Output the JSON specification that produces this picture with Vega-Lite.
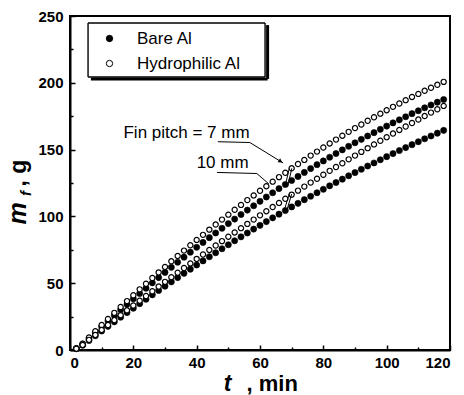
{
  "$schema": "https://vega.github.io/schema/vega-lite/v6.json",
  "width": 380,
  "height": 334,
  "autosize": {"type": "none"},
  "padding": {"left": 70, "top": 16, "right": 14, "bottom": 45},
  "background": "white",
  "datasets": {
    "curves": [
      {"t": 2, "h7": 1.2, "b7": 1.1, "h10": 1.0, "b10": 1.0},
      {"t": 4, "h7": 4.7, "b7": 4.4, "h10": 3.8, "b10": 3.6},
      {"t": 6, "h7": 9.4, "b7": 8.8, "h10": 7.6, "b10": 7.1},
      {"t": 8, "h7": 14.1, "b7": 13.1, "h10": 11.3, "b10": 10.7},
      {"t": 10, "h7": 18.7, "b7": 17.4, "h10": 15.0, "b10": 14.2},
      {"t": 12, "h7": 23.2, "b7": 21.7, "h10": 18.7, "b10": 17.7},
      {"t": 14, "h7": 27.8, "b7": 25.9, "h10": 22.4, "b10": 21.1},
      {"t": 16, "h7": 32.2, "b7": 30.1, "h10": 26.1, "b10": 24.6},
      {"t": 18, "h7": 36.6, "b7": 34.2, "h10": 29.7, "b10": 28.0},
      {"t": 20, "h7": 41.0, "b7": 38.3, "h10": 33.3, "b10": 31.3},
      {"t": 22, "h7": 45.4, "b7": 42.3, "h10": 36.9, "b10": 34.7},
      {"t": 24, "h7": 49.6, "b7": 46.3, "h10": 40.4, "b10": 38.0},
      {"t": 26, "h7": 53.9, "b7": 50.3, "h10": 44.0, "b10": 41.3},
      {"t": 28, "h7": 58.1, "b7": 54.2, "h10": 47.5, "b10": 44.6},
      {"t": 30, "h7": 62.2, "b7": 58.1, "h10": 51.0, "b10": 47.8},
      {"t": 32, "h7": 66.4, "b7": 61.9, "h10": 54.5, "b10": 51.0},
      {"t": 34, "h7": 70.4, "b7": 65.7, "h10": 57.9, "b10": 54.2},
      {"t": 36, "h7": 74.4, "b7": 69.5, "h10": 61.4, "b10": 57.4},
      {"t": 38, "h7": 78.4, "b7": 73.2, "h10": 64.8, "b10": 60.5},
      {"t": 40, "h7": 82.4, "b7": 76.9, "h10": 68.2, "b10": 63.6},
      {"t": 42, "h7": 86.2, "b7": 80.5, "h10": 71.5, "b10": 66.7},
      {"t": 44, "h7": 90.1, "b7": 84.1, "h10": 74.9, "b10": 69.8},
      {"t": 46, "h7": 93.9, "b7": 87.6, "h10": 78.2, "b10": 72.8},
      {"t": 48, "h7": 97.6, "b7": 91.1, "h10": 81.5, "b10": 75.8},
      {"t": 50, "h7": 101.3, "b7": 94.6, "h10": 84.8, "b10": 78.8},
      {"t": 52, "h7": 105.0, "b7": 98.0, "h10": 88.0, "b10": 81.8},
      {"t": 54, "h7": 108.6, "b7": 101.4, "h10": 91.2, "b10": 84.7},
      {"t": 56, "h7": 112.2, "b7": 104.7, "h10": 94.4, "b10": 87.6},
      {"t": 58, "h7": 115.7, "b7": 108.0, "h10": 97.6, "b10": 90.5},
      {"t": 60, "h7": 119.2, "b7": 111.3, "h10": 100.8, "b10": 93.3},
      {"t": 62, "h7": 122.6, "b7": 114.5, "h10": 103.9, "b10": 96.1},
      {"t": 64, "h7": 126.0, "b7": 117.7, "h10": 107.0, "b10": 98.9},
      {"t": 66, "h7": 129.4, "b7": 120.8, "h10": 110.1, "b10": 101.7},
      {"t": 68, "h7": 132.7, "b7": 123.9, "h10": 113.2, "b10": 104.4},
      {"t": 70, "h7": 136.0, "b7": 126.9, "h10": 116.3, "b10": 107.1},
      {"t": 72, "h7": 139.2, "b7": 129.9, "h10": 119.3, "b10": 109.8},
      {"t": 74, "h7": 142.3, "b7": 132.9, "h10": 122.3, "b10": 112.5},
      {"t": 76, "h7": 145.5, "b7": 135.8, "h10": 125.3, "b10": 115.1},
      {"t": 78, "h7": 148.5, "b7": 138.7, "h10": 128.2, "b10": 117.7},
      {"t": 80, "h7": 151.6, "b7": 141.5, "h10": 131.2, "b10": 120.3},
      {"t": 82, "h7": 154.6, "b7": 144.3, "h10": 134.1, "b10": 122.9},
      {"t": 84, "h7": 157.5, "b7": 147.1, "h10": 137.0, "b10": 125.4},
      {"t": 86, "h7": 160.4, "b7": 149.8, "h10": 139.8, "b10": 127.9},
      {"t": 88, "h7": 163.3, "b7": 152.5, "h10": 142.7, "b10": 130.4},
      {"t": 90, "h7": 166.1, "b7": 155.1, "h10": 145.5, "b10": 132.8},
      {"t": 92, "h7": 168.8, "b7": 157.7, "h10": 148.3, "b10": 135.3},
      {"t": 94, "h7": 171.6, "b7": 160.2, "h10": 151.1, "b10": 137.7},
      {"t": 96, "h7": 174.2, "b7": 162.7, "h10": 153.9, "b10": 140.0},
      {"t": 98, "h7": 176.9, "b7": 165.2, "h10": 156.6, "b10": 142.4},
      {"t": 100, "h7": 179.5, "b7": 167.6, "h10": 159.3, "b10": 144.7},
      {"t": 102, "h7": 182.0, "b7": 170.0, "h10": 162.0, "b10": 147.0},
      {"t": 104, "h7": 184.5, "b7": 172.3, "h10": 164.7, "b10": 149.3},
      {"t": 106, "h7": 187.0, "b7": 174.6, "h10": 167.3, "b10": 151.5},
      {"t": 108, "h7": 189.4, "b7": 176.9, "h10": 169.9, "b10": 153.7},
      {"t": 110, "h7": 191.7, "b7": 179.1, "h10": 172.5, "b10": 155.9},
      {"t": 112, "h7": 194.0, "b7": 181.3, "h10": 175.1, "b10": 158.1},
      {"t": 114, "h7": 196.3, "b7": 183.4, "h10": 177.7, "b10": 160.2},
      {"t": 116, "h7": 198.5, "b7": 185.5, "h10": 180.2, "b10": 162.3},
      {"t": 118, "h7": 200.7, "b7": 187.5, "h10": 182.7, "b10": 164.4}
    ],
    "labels": [
      {"t": 36.8, "m": 162.4, "label": "Fin pitch = 7 mm"},
      {"t": 48.2, "m": 139.7, "label": "10 mm"}
    ],
    "arrows": [
      {"id": "a1", "o": 1, "t": 46.7, "m": 155.9},
      {"id": "a1", "o": 2, "t": 56.8, "m": 155.3},
      {"id": "a1", "o": 3, "t": 67.3, "m": 140.0},
      {"id": "a2", "o": 1, "t": 46.4, "m": 132.9},
      {"id": "a2", "o": 2, "t": 59.0, "m": 132.1},
      {"id": "a2", "o": 3, "t": 62.8, "m": 124.3}
    ],
    "heads": [
      {"t": 66.5, "m": 141.2}
    ],
    "slashes": [
      {"t": 67.9, "m": 122.2, "t2": 69.25, "m2": 136.0},
      {"t": 68.7, "m": 122.2, "t2": 70.05, "m2": 136.0},
      {"t": 67.6, "m": 104.0, "t2": 69.2, "m2": 116.7},
      {"t": 68.4, "m": 104.0, "t2": 70.0, "m2": 116.7}
    ],
    "boxedges": [
      {"t": 5.7, "m": 244.8, "t2": 61.6, "m2": 244.8},
      {"t": 5.7, "m": 204.3, "t2": 61.6, "m2": 204.3},
      {"t": 5.7, "m": 204.3, "t2": 5.7, "m2": 244.8},
      {"t": 61.6, "m": 204.3, "t2": 61.6, "m2": 244.8}
    ],
    "shadowedges": [
      {"t": 6.6, "m": 202.9, "t2": 62.4, "m2": 202.9},
      {"t": 62.4, "m": 202.9, "t2": 62.4, "m2": 243.2}
    ]
  },
  "layer": [
    {
      "data": {"name": "shadowedges"},
      "mark": {"type": "rule", "color": "black", "strokeWidth": 3},
      "encoding": {
        "x": {"field": "t", "type": "quantitative", "scale": {"domain": [0, 120], "nice": false}, "axis": null},
        "y": {"field": "m", "type": "quantitative", "scale": {"domain": [0, 250], "nice": false}, "axis": null},
        "x2": {"field": "t2"},
        "y2": {"field": "m2"}
      }
    },
    {
      "data": {"name": "boxedges"},
      "mark": {"type": "rule", "color": "black", "strokeWidth": 1.4},
      "encoding": {
        "x": {"field": "t", "type": "quantitative", "scale": {"domain": [0, 120], "nice": false}, "axis": null},
        "y": {"field": "m", "type": "quantitative", "scale": {"domain": [0, 250], "nice": false}, "axis": null},
        "x2": {"field": "t2"},
        "y2": {"field": "m2"}
      }
    },
    {
      "data": {"name": "curves"},
      "transform": [{"fold": ["b7", "b10"], "as": ["series", "m"]}],
      "mark": {"type": "point", "shape": "circle", "filled": true, "size": 38, "stroke": "black", "strokeWidth": 0.6, "opacity": 1},
      "encoding": {
        "x": {"field": "t", "type": "quantitative", "scale": {"domain": [0, 120], "nice": false},
          "axis": {"orient": "bottom", "values": [0, 20, 40, 60, 80, 100, 120], "tickSize": -5, "labelPadding": 10,
            "title": "t", "titleFontStyle": "italic", "titleFontWeight": "bold", "titleFontSize": 23,
            "titleX": 157, "titleY": 40, "titleAlign": "center", "titleBaseline": "alphabetic"}},
        "y": {"field": "m", "type": "quantitative", "scale": {"domain": [0, 250], "nice": false},
          "axis": {"orient": "left", "values": [0, 50, 100, 150, 200, 250], "tickSize": -5, "labelPadding": 12,
            "title": "m", "titleFontStyle": "italic", "titleFontWeight": "bold", "titleFontSize": 25,
            "titleX": -45, "titleY": 197, "titleAlign": "center", "titleBaseline": "alphabetic", "titleAngle": 270}},
        "fill": {"datum": "Bare Al", "type": "nominal",
          "scale": {"domain": ["Bare Al", "Hydrophilic Al"], "range": ["black", "white"]},
          "legend": {"orient": "none", "legendX": 22, "legendY": 11, "title": null, "padding": 3,
            "fillColor": "transparent", "strokeColor": "transparent",
            "symbolOffset": 6, "labelFontSize": 17, "labelFont": "Liberation Sans", "labelFontWeight": "normal",
            "labelColor": "black", "symbolSize": 40, "symbolStrokeColor": "black", "symbolStrokeWidth": 1,
            "symbolType": "circle", "rowPadding": 7, "labelOffset": 19}}
      }
    },
    {
      "data": {"name": "curves"},
      "transform": [{"fold": ["h7", "h10"], "as": ["series", "m"]}],
      "mark": {"type": "point", "shape": "circle", "filled": true, "size": 27, "stroke": "black", "strokeWidth": 1.2, "opacity": 1},
      "encoding": {
        "x": {"field": "t", "type": "quantitative", "scale": {"domain": [0, 120], "nice": false},
          "axis": {"orient": "bottom", "values": [10, 30, 50, 70, 90, 110], "tickSize": -3, "labels": false, "domain": false,
            "title": ", min", "titleFontWeight": "bold", "titleFontSize": 22,
            "titleX": 176, "titleY": 40, "titleAlign": "left", "titleBaseline": "alphabetic"}},
        "y": {"field": "m", "type": "quantitative", "scale": {"domain": [0, 250], "nice": false},
          "axis": {"orient": "left", "values": [25, 75, 125, 175, 225], "tickSize": -3, "labels": false, "domain": false,
            "title": "f", "titleFontStyle": "italic", "titleFontWeight": "bold", "titleFontSize": 15,
            "titleX": -40, "titleY": 177, "titleAlign": "center", "titleBaseline": "alphabetic", "titleAngle": 270}},
        "fill": {"datum": "Hydrophilic Al", "type": "nominal"}
      }
    },
    {
      "data": {"name": "labels"},
      "mark": {"type": "text", "font": "Liberation Sans", "fontSize": 17, "color": "black", "align": "center", "baseline": "middle"},
      "encoding": {
        "x": {"field": "t", "type": "quantitative", "scale": {"domain": [0, 120], "nice": false}, "axis": null},
        "y": {"field": "m", "type": "quantitative", "scale": {"domain": [0, 250], "nice": false},
          "axis": {"orient": "left", "ticks": false, "labels": false, "domain": false,
            "title": ", g", "titleFontWeight": "bold", "titleFontSize": 23,
            "titleX": -45, "titleY": 170, "titleAlign": "left", "titleBaseline": "alphabetic", "titleAngle": 270}},
        "text": {"field": "label"}
      }
    },
    {
      "data": {"name": "arrows"},
      "mark": {"type": "line", "color": "black", "strokeWidth": 1},
      "encoding": {
        "x": {"field": "t", "type": "quantitative", "scale": {"domain": [0, 120], "nice": false}, "axis": null},
        "y": {"field": "m", "type": "quantitative", "scale": {"domain": [0, 250], "nice": false}, "axis": null},
        "detail": {"field": "id"},
        "order": {"field": "o"}
      }
    },
    {
      "data": {"name": "heads"},
      "mark": {"type": "point", "shape": "triangle-right", "filled": true, "color": "black", "size": 22, "angle": 32, "opacity": 1},
      "encoding": {
        "x": {"field": "t", "type": "quantitative", "scale": {"domain": [0, 120], "nice": false}, "axis": null},
        "y": {"field": "m", "type": "quantitative", "scale": {"domain": [0, 250], "nice": false}, "axis": null}
      }
    },
    {
      "data": {"name": "slashes"},
      "mark": {"type": "rule", "color": "black", "strokeWidth": 1},
      "encoding": {
        "x": {"field": "t", "type": "quantitative", "scale": {"domain": [0, 120], "nice": false}, "axis": null},
        "y": {"field": "m", "type": "quantitative", "scale": {"domain": [0, 250], "nice": false}, "axis": null},
        "x2": {"field": "t2"},
        "y2": {"field": "m2"}
      }
    }
  ],
  "resolve": {"axis": {"x": "independent", "y": "independent"}},
  "config": {
    "font": "Liberation Sans",
    "view": {"stroke": "black", "strokeWidth": 2},
    "legend": {"fillColor": "transparent"},
    "axis": {"domainColor": "black", "domainWidth": 2, "tickColor": "black", "tickWidth": 1.5,
      "labelColor": "black", "labelFont": "Liberation Sans", "labelFontSize": 15, "labelFontWeight": "bold",
      "titleColor": "black", "titleFont": "Liberation Sans", "grid": false}
  }
}
